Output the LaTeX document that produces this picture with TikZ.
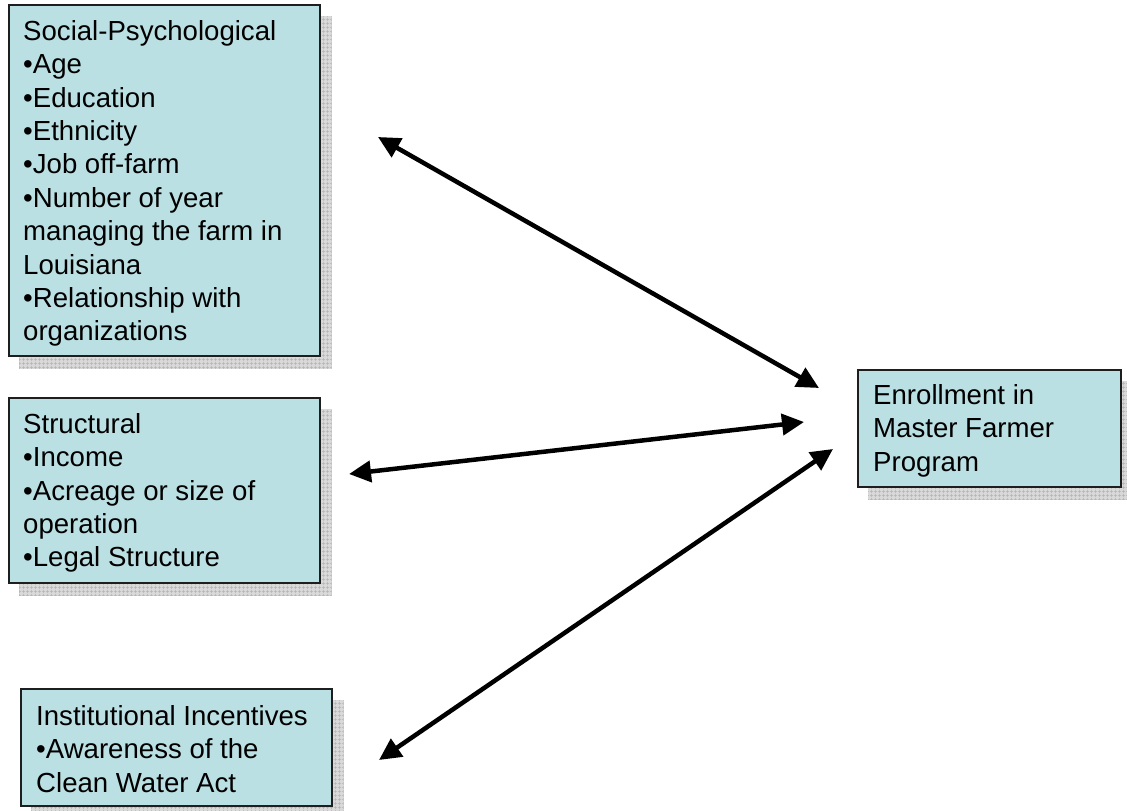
\documentclass[tikz,border=0pt]{standalone}
\usepackage{fontspec}
\setmainfont{Liberation Sans}
\usetikzlibrary{arrows.meta,patterns.meta,backgrounds}
\definecolor{boxfill}{RGB}{187,224,227}
\definecolor{boxline}{RGB}{30,30,30}
\begin{document}
\begin{tikzpicture}[x=1pt,y=-1pt,
  factorbox/.style={draw=boxline, line width=1.5pt, fill=boxfill, rectangle, anchor=north west, inner sep=0pt},
  shadowbox/.style={preaction={fill=gray!30}, pattern={Hatch[angle=0,distance=4pt,line width=0.5pt]}, pattern color=gray!60},
  boxtext/.style={anchor=north west, inner sep=0pt, align=left, font=\fontsize{27.6}{33.4}\selectfont},
  link/.style={line width=4.5pt, {Triangle[length=22pt,width=21pt]}-{Triangle[length=22pt,width=21pt]}}
]
\useasboundingbox (0,0) rectangle (1127,811);

% boxes
\node[factorbox, minimum width=311pt, minimum height=351pt] (sp) at (8,4) {};
\node[factorbox, minimum width=311pt, minimum height=185pt] (st) at (8,397) {};
\node[factorbox, minimum width=311pt, minimum height=117pt] (ii) at (20,688) {};
\node[factorbox, minimum width=263pt, minimum height=117pt] (em) at (857,369) {};

% texts
\node[boxtext] (sptext) at (23,14) {\rule{0pt}{26pt}Social-Psychological\\•Age\\•Education\\•Ethnicity\\•Job off-farm\\•Number of year\\managing the farm in\\Louisiana\\•Relationship with\\organizations};
\node[boxtext] (sttext) at (23,407) {\rule{0pt}{26pt}Structural\\•Income\\•Acreage or size of\\operation\\•Legal Structure};
\node[boxtext] (iitext) at (36,699) {\rule{0pt}{26pt}Institutional Incentives\\•Awareness of the\\Clean Water Act};
\node[boxtext] (emtext) at (873,378) {\rule{0pt}{26pt}Enrollment in\\Master Farmer\\Program};

% shadows
\begin{scope}[on background layer]
  \path[shadowbox] ([shift={(11pt,-12pt)}]sp.north west) rectangle ([shift={(11pt,-12pt)}]sp.south east);
  \path[shadowbox] ([shift={(11pt,-12pt)}]st.north west) rectangle ([shift={(11pt,-12pt)}]st.south east);
  \path[shadowbox] ([shift={(11pt,-12pt)}]ii.north west) rectangle ([shift={(11pt,-12pt)}]ii.south east);
  \path[shadowbox] ([shift={(11pt,-12pt)}]em.north west) rectangle ([shift={(11pt,-12pt)}]em.south east);
\end{scope}

% connector ends
\coordinate (spport) at (378,137);
\coordinate (stport) at (349,474);
\coordinate (iiport) at (379,760);
\coordinate (emport1) at (819,388);
\coordinate (emport2) at (804,422);
\coordinate (emport3) at (833,449);

\draw[link] (spport) -- (emport1);
\draw[link] (stport) -- (emport2);
\draw[link] (iiport) -- (emport3);
\end{tikzpicture}
\end{document}
